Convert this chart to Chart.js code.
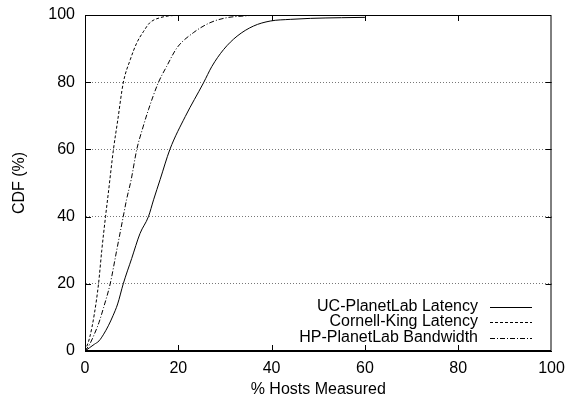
<!DOCTYPE html>
<html>
<head>
<meta charset="utf-8">
<script src="https://cdn.jsdelivr.net/npm/chart.js@4.4.0/dist/chart.umd.min.js"></script>
<style>
  html, body { margin: 0; padding: 0; background: #fff; }
  canvas { display: block; }
</style>
</head>
<body>
<canvas id="chart" width="570" height="398"></canvas>
<script>
// CDF curves (x = % hosts measured, y = CDF %)
const ucX = [0, 1, 2, 3, 4, 5, 6, 7, 8.2, 10, 11.8, 13.6, 14.7, 16.1, 18.2, 21.5, 25.4, 27.2, 29.7, 32.6, 36.1, 39.7, 44, 48.3, 55, 60];
const ucY = [0, 1, 2, 3, 5, 7.5, 10.5, 14, 20, 27.5, 35, 40, 45, 51, 60, 69.8, 79.8, 84.7, 89.7, 93.7, 96.7, 98.2, 98.7, 99, 99.2, 99.3];

const kingX = [0, 1, 2, 2.9, 3.6, 4.4, 5.0, 6.1, 7.0, 8.2, 9.7, 11.1, 12.5, 13.9, 16.1, 19.7, 25, 30, 40];
const kingY = [0, 4, 11, 20, 30, 40, 47, 60, 68.5, 79.8, 86.7, 91.7, 95, 97.7, 99.2, 99.9, 100, 100, 100];

const hpX = [0, 1, 2, 3, 4, 5.4, 6.8, 8.2, 8.9, 9.9, 11.1, 12.3, 13.6, 15.7, 17.5, 19.7, 23.2, 26.8, 30.4, 34, 37.6, 40];
const hpY = [0, 2, 5, 8.5, 13, 20, 30, 40, 45, 51, 60, 66, 71.8, 79.8, 84.7, 90.2, 94.7, 97.7, 99.2, 99.7, 100, 100];

const seriesNames = ['UC-PlanetLab Latency', 'Cornell-King Latency', 'HP-PlanetLab Bandwidth'];
const dashes = [[], [3, 2], [5, 2, 1, 2]];
const axisTicks = [0, 20, 40, 60, 80, 100];

function toPoints(xs, ys) {
    return xs.map((x, i) => ({ x: x, y: ys[i] }));
}

Chart.defaults.font.family = '"Liberation Sans", Arial, sans-serif';
Chart.defaults.font.size = 16;
Chart.defaults.color = '#000';

// frame, inward ticks and legend drawn like the original plot
const framePlugin = {
    id: 'frame',
    afterDatasetsDraw(chart) {
        const c = chart.ctx;
        const a = chart.chartArea;
        const xs = chart.scales.x, ys = chart.scales.y;
        c.save();
        c.strokeStyle = '#000';
        c.lineWidth = 1;
        c.setLineDash([]);
        c.strokeRect(a.left + 0.5, a.top + 0.5, a.right - a.left - 1, a.bottom - a.top - 1);
        c.beginPath();
        axisTicks.slice(1, -1).forEach(v => {
            const px = Math.round(xs.getPixelForValue(v)) + 0.5;
            c.moveTo(px, a.bottom); c.lineTo(px, a.bottom - 6);
            c.moveTo(px, a.top); c.lineTo(px, a.top + 6);
            const py = Math.round(ys.getPixelForValue(v)) + 0.5;
            c.moveTo(a.left, py); c.lineTo(a.left + 6, py);
            c.moveTo(a.right, py); c.lineTo(a.right - 6, py);
        });
        c.stroke();

        // legend
        c.font = '16px "Liberation Sans", Arial, sans-serif';
        c.textAlign = 'right';
        c.textBaseline = 'middle';
        c.fillStyle = '#000';
        const rowY = [307, 322, 338];
        chart.data.datasets.forEach((ds, i) => {
            c.fillText(ds.label, 478, rowY[i]);
            c.beginPath();
            c.setLineDash(ds.borderDash || []);
            c.moveTo(490, rowY[i] + 0.5);
            c.lineTo(532, rowY[i] + 0.5);
            c.stroke();
        });
        c.restore();
    }
};

new Chart(document.getElementById('chart'), {
    type: 'scatter',
    data: {
        datasets: [
            { label: seriesNames[0], data: toPoints(ucX, ucY), borderDash: dashes[0] },
            { label: seriesNames[1], data: toPoints(kingX, kingY), borderDash: dashes[1] },
            { label: seriesNames[2], data: toPoints(hpX, hpY), borderDash: dashes[2] }
        ].map(ds => Object.assign(ds, {
            showLine: true,
            borderColor: '#000',
            borderWidth: 1,
            pointRadius: 0,
            cubicInterpolationMode: 'monotone'
        }))
    },
    options: {
        responsive: false,
        animation: false,
        layout: { padding: { top: 15, right: 18.5, left: 0, bottom: 0 } },
        plugins: { legend: { display: false }, tooltip: { enabled: false } },
        scales: {
            x: {
                type: 'linear',
                min: 0, max: 100,
                afterFit(s) { s.height = 47; s.paddingLeft = 0; s.paddingRight = 0; },
                ticks: { stepSize: 20, padding: 8, maxRotation: 0 },
                grid: { display: false, drawTicks: false },
                border: { color: '#000' },
                title: { display: true, text: '% Hosts Measured', font: { lineHeight: 1 }, padding: { top: 0, bottom: 0 } }
            },
            y: {
                min: 0, max: 100,
                afterFit(s) { s.width = 85; s.paddingTop = 0; s.paddingBottom = 0; },
                ticks: { stepSize: 20, padding: 10 },
                grid: {
                    drawTicks: false,
                    color: ctx => (ctx.tick.value > 0 && ctx.tick.value < 100) ? '#777' : 'rgba(0,0,0,0)'
                },
                border: { color: '#000', dash: [1, 2] },
                title: { display: true, text: 'CDF (%)', padding: { top: 10, bottom: 0 } }
            }
        }
    },
    plugins: [framePlugin]
});
</script>
</body>
</html>
